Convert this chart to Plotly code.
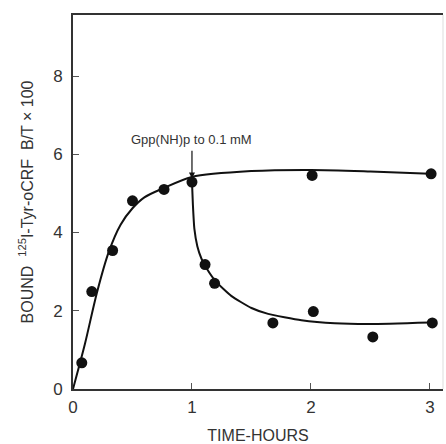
import plotly.graph_objects as go

# Measured data points
rise_x = [0.074, 0.158, 0.333, 0.50, 0.765, 1.00, 2.01, 3.01]
rise_y = [0.67, 2.49, 3.54, 4.81, 5.10, 5.29, 5.46, 5.50]
drop_x = [1.11, 1.19, 1.68, 2.02, 2.52, 3.02]
drop_y = [3.18, 2.70, 1.69, 1.98, 1.33, 1.69]

# Fitted curves
fit_rise_x = [0, 0.1, 0.2, 0.3, 0.4, 0.5, 0.6, 0.75, 1.0, 1.5, 2.0, 2.5, 3.0]
fit_rise_y = [0, 1.15, 2.45, 3.5, 4.2, 4.62, 4.9, 5.12, 5.42, 5.57, 5.6, 5.56, 5.5]
fit_drop_x = [1.0, 1.008, 1.02, 1.045, 1.08, 1.12, 1.2, 1.33, 1.5, 1.64, 1.92, 2.2, 2.5, 3.0]
fit_drop_y = [5.3, 4.7, 4.1, 3.65, 3.33, 3.1, 2.75, 2.38, 2.07, 1.92, 1.76, 1.68, 1.66, 1.70]

x_ticks = [0, 1, 2, 3]
y_ticks = [0, 2, 4, 6, 8]

ink = "#111111"
txt = "#333333"

fig = go.Figure()
fig.add_trace(go.Scatter(x=fit_rise_x, y=fit_rise_y, mode="lines",
                         line=dict(color=ink, width=2, shape="spline", smoothing=0.8),
                         hoverinfo="skip"))
fig.add_trace(go.Scatter(x=fit_drop_x, y=fit_drop_y, mode="lines",
                         line=dict(color=ink, width=2, shape="spline", smoothing=0.5),
                         hoverinfo="skip"))
fig.add_trace(go.Scatter(x=rise_x, y=rise_y, mode="markers",
                         marker=dict(color=ink, size=11)))
fig.add_trace(go.Scatter(x=drop_x, y=drop_y, mode="markers",
                         marker=dict(color=ink, size=11)))

fig.add_annotation(x=1.0, y=5.38, ax=1.0, ay=6.13, xref="x", yref="y",
                   axref="x", ayref="y", text="", showarrow=True,
                   arrowhead=2, arrowsize=1, arrowwidth=1.2, arrowcolor=ink)
fig.add_annotation(x=1.0, y=6.38, xref="x", yref="y", text="Gpp(NH)p to 0.1 mM",
                   showarrow=False, font=dict(size=13, color=txt))

fig.add_shape(type="line", xref="paper", yref="paper", x0=1, x1=1, y0=0, y1=1,
              line=dict(color="#dddddd", width=1))

fig.update_layout(
    width=446, height=444,
    margin=dict(l=73, r=3, t=15, b=55),
    paper_bgcolor="white", plot_bgcolor="white",
    showlegend=False,
    font=dict(family="Liberation Sans, Arial, sans-serif", color=txt, size=16),
    xaxis=dict(range=[0, 3.11], tickvals=x_ticks, ticktext=[str(v) for v in x_ticks],
               tickfont=dict(size=17, color=txt), automargin=False,
               ticks="inside", ticklen=6, tickcolor="#555", showgrid=False,
               zeroline=False, showline=True, linecolor="#333", linewidth=2,
               mirror=True, ticklabelstandoff=2,
               title=dict(text="TIME-HOURS", font=dict(size=16, color=txt), standoff=16)),
    yaxis=dict(range=[0, 9.56], tickvals=y_ticks, ticktext=[str(v) for v in y_ticks],
               tickfont=dict(size=17, color=txt), automargin=False,
               ticks="inside", ticklen=6, tickcolor="#555", showgrid=False,
               zeroline=False, showline=True, linecolor="#333", linewidth=2,
               ticklabelstandoff=5,
               title=dict(text="BOUND  <sup>125</sup>I-Tyr-oCRF  B/T × 100",
                          font=dict(size=16, color=txt), standoff=16)),
)

fig.write_html("out.html")
